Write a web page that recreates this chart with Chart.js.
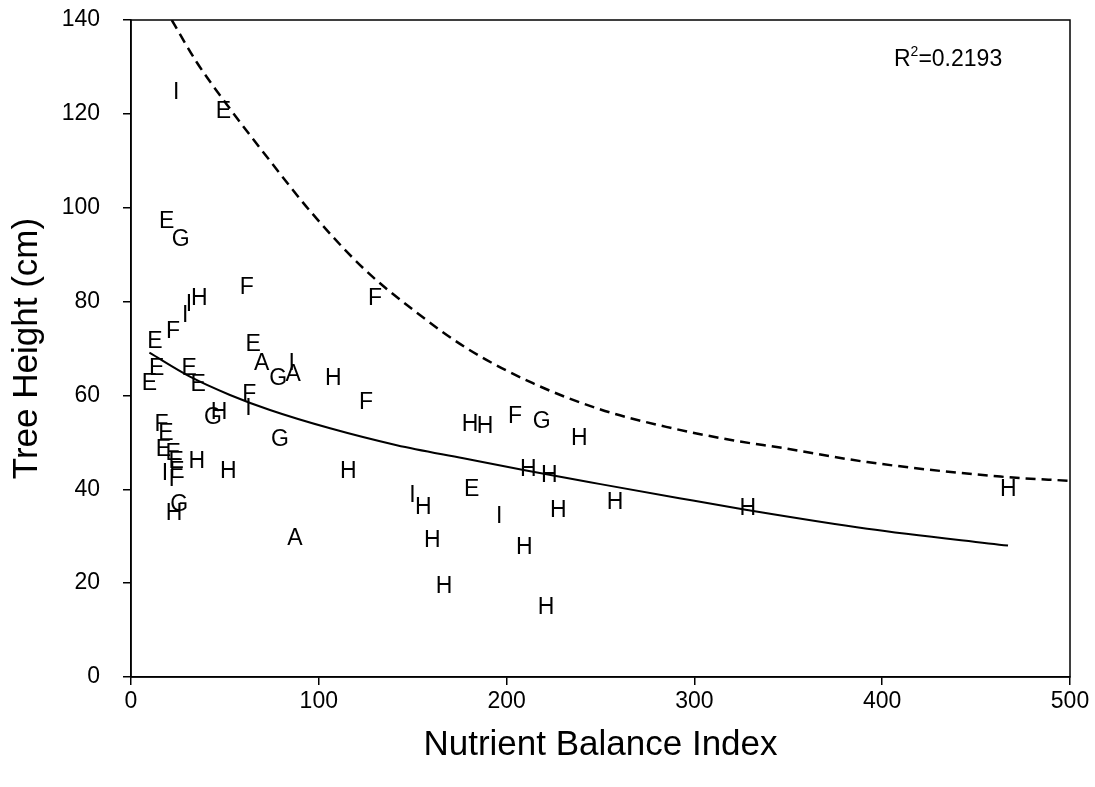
<!DOCTYPE html>
<html>
<head>
<meta charset="utf-8">
<title>Tree Height vs Nutrient Balance Index</title>
<script src="https://cdn.jsdelivr.net/npm/chart.js@4/dist/chart.umd.min.js"></script>
<style>
  html, body { margin: 0; padding: 0; background: #fff; }
  #wrap { width: 1095px; height: 787px; }
</style>
</head>
<body>
<div id="wrap"><canvas id="nbiChart" width="1095" height="787"></canvas></div>
<script>
// Plot codes (letters) and their positions
const plotCodes = ['I','E','E','G','F','F','H','I','I','F',
  'E','E','A','I','G','A','H','F','E','E',
  'E','E','F','I','G','H','F','E','E','E',
  'E','E','H','H','I','I','G','H','G','H',
  'A','H','H','F','G','H','H','H','I','H',
  'E','I','H','H','H','H','H','H','H','H'];
const nbiValues = [24.0, 49.2, 19.0, 26.5, 61.6, 129.9, 36.4, 30.9, 28.8, 22.4,
  12.8, 65.1, 69.6, 85.6, 78.4, 86.4, 107.7, 125.1, 13.7, 31.0,
  9.8, 35.8, 63.0, 62.5, 43.7, 46.9, 16.3, 18.6, 17.2, 22.5,
  24.0, 24.5, 35.0, 51.8, 18.1, 21.7, 25.7, 22.9, 79.3, 115.7,
  87.3, 180.5, 188.5, 204.5, 218.7, 238.7, 211.6, 222.7, 149.8, 155.7,
  181.4, 196.0, 227.5, 257.7, 160.4, 209.4, 166.7, 221.0, 328.4, 467.1];
const heightValues = [124.9, 120.8, 97.4, 93.5, 83.4, 81.0, 81.0, 79.7, 77.3, 73.9,
  71.8, 71.1, 67.2, 67.2, 64.0, 64.7, 63.9, 58.9, 66.1, 66.1,
  62.9, 62.6, 60.5, 57.6, 55.6, 56.7, 54.1, 52.3, 48.7, 48.0,
  46.2, 44.1, 46.2, 44.2, 43.7, 42.3, 37.0, 35.2, 50.9, 44.2,
  29.9, 54.1, 53.7, 55.8, 54.8, 51.1, 44.5, 43.3, 39.1, 36.4,
  40.2, 34.5, 35.9, 37.4, 29.3, 27.9, 19.6, 15.1, 36.3, 40.2];

// Fitted curve (solid)
const fitX = [9.8, 31.4, 52.7, 74, 106, 141.5, 177, 209, 250, 292, 328, 392, 467];
const fitY = [69.1, 64.0, 60.1, 56.9, 53.0, 49.4, 46.6, 44.1, 41.1, 38.1, 35.6, 31.6, 28.0];

// Upper boundary curve (dashed)
const upperX = [21.7, 35, 51, 74, 96, 124, 151, 179, 214, 250, 285, 321, 347, 392, 463, 500];
const upperY = [140, 131, 122, 110, 99, 87, 78, 70, 62.6, 57, 53.3, 50.4, 48.8, 45.8, 42.7, 41.8];

const rSquared = 'R';
const rSquaredValue = '=0.2193';

const FONT = '"Liberation Sans", Arial, sans-serif';

function toPoints(xs, ys) {
  return xs.map((x, i) => ({ x: x, y: ys[i] }));
}

// Draw the letters at each data point
const letterPlugin = {
  id: 'letters',
  afterDatasetsDraw(chart) {
    const ctx = chart.ctx;
    const meta = chart.getDatasetMeta(0);
    ctx.save();
    ctx.fillStyle = '#000';
    ctx.font = '23px ' + FONT;
    ctx.textAlign = 'center';
    ctx.textBaseline = 'alphabetic';
    meta.data.forEach((pt, i) => {
      ctx.fillText(plotCodes[i], pt.x, pt.y + 8);
    });
    ctx.restore();
  }
};

// Box around the plot and the R² note
const framePlugin = {
  id: 'frame',
  afterDraw(chart) {
    const { ctx, chartArea } = chart;
    ctx.save();
    ctx.strokeStyle = '#000';
    ctx.lineWidth = 1.5;
    ctx.strokeRect(chartArea.left, chartArea.top, chartArea.right - chartArea.left, chartArea.bottom - chartArea.top);

    ctx.fillStyle = '#000';
    ctx.textBaseline = 'alphabetic';
    ctx.textAlign = 'left';
    let x = chartArea.right - 176;
    const y = chartArea.top + 46;
    ctx.font = '23px ' + FONT;
    ctx.fillText(rSquared, x, y);
    x += ctx.measureText(rSquared).width;
    ctx.font = '14px ' + FONT;
    ctx.fillText('2', x, y - 10);
    x += ctx.measureText('2').width;
    ctx.font = '23px ' + FONT;
    ctx.fillText(rSquaredValue, x, y);
    ctx.restore();
  }
};

const ctx = document.getElementById('nbiChart').getContext('2d');
const nbiChart = new Chart(ctx, {
  type: 'scatter',
  data: {
    datasets: [
      {
        label: 'Plots',
        data: toPoints(nbiValues, heightValues),
        pointRadius: 0,
        showLine: false
      },
      {
        label: 'Fit',
        data: toPoints(fitX, fitY),
        showLine: true,
        borderColor: '#000',
        borderWidth: 2,
        pointRadius: 0,
        cubicInterpolationMode: 'monotone'
      },
      {
        label: 'Upper',
        data: toPoints(upperX, upperY),
        showLine: true,
        borderColor: '#000',
        borderWidth: 2.5,
        borderDash: [10, 6],
        pointRadius: 0,
        cubicInterpolationMode: 'monotone'
      }
    ]
  },
  options: {
    responsive: false,
    animation: false,
    layout: { padding: { left: 0, right: 25, top: 20, bottom: 0 } },
    plugins: {
      legend: { display: false },
      tooltip: { enabled: false }
    },
    scales: {
      x: {
        type: 'linear',
        min: 0,
        max: 500,
        ticks: { stepSize: 100, color: '#000', font: { family: FONT, size: 23 }, padding: 3 },
        grid: { drawOnChartArea: false, drawTicks: true, tickLength: 8, color: '#000', lineWidth: 1.5 },
        border: { display: true, color: '#000', width: 1.5 },
        title: { display: true, text: 'Nutrient Balance Index', color: '#000', font: { family: FONT, size: 35 }, padding: { top: 0, bottom: 21 } },
        afterFit(scale) { scale.height = 110; }
      },
      y: {
        type: 'linear',
        min: 0,
        max: 140,
        ticks: { stepSize: 20, color: '#000', font: { family: FONT, size: 23 }, padding: 23 },
        grid: { drawOnChartArea: false, drawTicks: true, tickLength: 8, color: '#000', lineWidth: 1.5 },
        border: { display: true, color: '#000', width: 1.5 },
        title: { display: true, text: 'Tree Height (cm)', color: '#000', font: { family: FONT, size: 35 }, padding: { top: 6, bottom: 0 } },
        afterFit(scale) {
          scale.width = 131;
          scale.paddingTop = 0;
          scale.paddingBottom = 0;
        }
      }
    }
  },
  plugins: [letterPlugin, framePlugin]
});
</script>
</body>
</html>
